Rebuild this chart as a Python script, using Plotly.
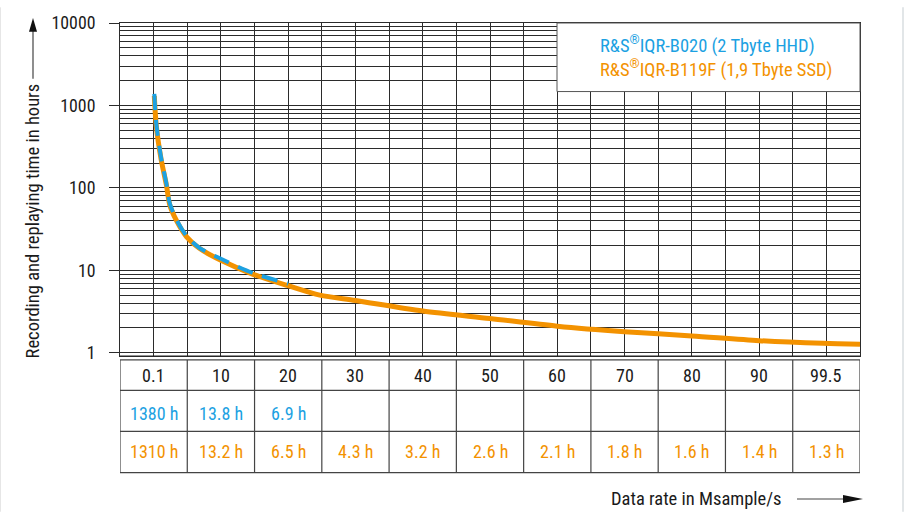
import plotly.graph_objects as go

# Recording time versus data rate (log scale) for the two storage options
rate_ssd = [0.1, 0.4, 1.1, 1.9, 2.4, 3.4, 4.9, 6.8, 10, 14.7, 20, 24.7, 30, 40, 50, 60, 70, 80, 90, 99.5, 105]
hours_ssd = [1310, 560, 225, 108, 62, 40, 25.5, 18.5, 13.2, 9.0, 6.5, 5.0, 4.3, 3.2, 2.6, 2.1, 1.8, 1.6, 1.4, 1.3, 1.27]

rate_hdd = [0.1, 0.4, 1.1, 1.9, 2.4, 3.4, 4.9, 6.8, 10, 14.7, 20]
hours_hdd = [1380, 590, 235, 112, 65, 41, 26, 18.7, 13.8, 9.3, 6.9]

# Table below the chart
col_pos = [0, 10, 20, 30, 40, 50, 60, 70, 80, 90, 100]
col_labels = ["0.1", "10", "20", "30", "40", "50", "60", "70", "80", "90", "99.5"]
hdd_labels = ["1380 h", "13.8 h", "6.9 h", "", "", "", "", "", "", "", ""]
ssd_labels = ["1310 h", "13.2 h", "6.5 h", "4.3 h", "3.2 h", "2.6 h", "2.1 h", "1.8 h", "1.6 h", "1.4 h", "1.3 h"]

y_ticks = [1, 10, 100, 1000, 10000]
legend_hdd = "R&S<sup>®</sup>IQR-B020 (2 Tbyte HHD)"
legend_ssd = "R&S<sup>®</sup>IQR-B119F (1,9 Tbyte SSD)"
x_title = "Data rate in Msample/s"
y_title = "Recording and replaying time in hours"

BLUE = "#1CA1E2"
ORANGE = "#F39200"
GRID = "#2b2b2b"
TXT = "#1a1a1a"
FONT = "Roboto Condensed, Liberation Sans Narrow, DejaVu Sans Condensed, sans-serif"
FS = 18.5
FS_TABLE = 18
FS_TICK = 17.8

W_FIG, H_FIG = 910, 515
L, R, T, B = 120, 860, 16, 356


def px(x):
    return (x - L) / (R - L)


def py(y):
    return (B - y) / (B - T)


fig = go.Figure()
fig.add_trace(go.Scatter(x=rate_ssd, y=hours_ssd, mode="lines",
                         line=dict(color=ORANGE, width=5, shape="spline", smoothing=0.8),
                         hoverinfo="skip", showlegend=False))
fig.add_trace(go.Scatter(x=rate_hdd, y=hours_hdd, mode="lines",
                         line=dict(color=BLUE, width=4, dash="16px,10px", shape="spline", smoothing=0.8),
                         hoverinfo="skip", showlegend=False))

shapes = []
annotations = []

# legend box covering the upper right of the grid
shapes.append(dict(type="rect", xref="paper", yref="paper",
                   x0=px(557), x1=px(860), y0=py(86), y1=py(16),
                   fillcolor="white", line=dict(color="#555", width=1), layer="above"))
annotations.append(dict(xref="paper", yref="paper", x=px(598), y=py(38), text=legend_hdd,
                        showarrow=False, xanchor="left", yanchor="middle",
                        font=dict(family=FONT, size=FS, color=BLUE)))
annotations.append(dict(xref="paper", yref="paper", x=px(598), y=py(62), text=legend_ssd,
                        showarrow=False, xanchor="left", yanchor="middle",
                        font=dict(family=FONT, size=FS, color=ORANGE)))

# table grid
row_y = [360, 391, 433, 475]
for yy in row_y:
    shapes.append(dict(type="line", xref="paper", yref="paper", x0=0, x1=1, y0=py(yy), y1=py(yy),
                       line=dict(color="#444", width=1.2)))
for k in range(len(col_pos) + 1):
    xb = col_pos[0] - 5 + 10 * k
    shapes.append(dict(type="line", xref="x", yref="paper", x0=xb, x1=xb, y0=py(360), y1=py(475),
                       line=dict(color="#444", width=1.2)))
# separation line between the plot and the table
shapes.append(dict(type="line", xref="paper", yref="paper", x0=0, x1=1, y0=py(356), y1=py(356),
                   line=dict(color="#222", width=1)))

row_centers = [376, 415, 454]
for xc, a, b, c in zip(col_pos, col_labels, hdd_labels, ssd_labels):
    for txt, yc, col in ((a, row_centers[0], TXT), (b, row_centers[1], BLUE), (c, row_centers[2], ORANGE)):
        if txt:
            annotations.append(dict(xref="x", yref="paper", x=xc, y=py(yc), text=txt, showarrow=False,
                                    xanchor="center", yanchor="middle",
                                    font=dict(family=FONT, size=FS_TABLE, color=col)))

# axis titles with arrows
annotations.append(dict(xref="paper", yref="paper", x=px(784), y=py(502), text=x_title, showarrow=False,
                        xanchor="right", yanchor="middle", font=dict(family=FONT, size=FS, color=TXT)))
shapes.append(dict(type="line", xref="paper", yref="paper", x0=px(797), x1=px(846), y0=py(502), y1=py(502),
                   line=dict(color="#444", width=1.2)))
shapes.append(dict(type="path", xref="paper", yref="paper",
                   path=f"M {px(843)} {py(498)} L {px(863)} {py(502)} L {px(843)} {py(506)} Z",
                   fillcolor="#111", line=dict(color="#111", width=0)))

annotations.append(dict(xref="paper", yref="paper", x=px(33), y=py(361), text=y_title, showarrow=False,
                        textangle=-90, xanchor="center", yanchor="bottom",
                        font=dict(family=FONT, size=FS, color=TXT)))
shapes.append(dict(type="line", xref="paper", yref="paper", x0=px(33), x1=px(33), y0=py(73), y1=py(22),
                   line=dict(color="#444", width=1.2)))
shapes.append(dict(type="path", xref="paper", yref="paper",
                   path=f"M {px(29)} {py(25)} L {px(33)} {py(11)} L {px(37)} {py(25)} Z",
                   fillcolor="#111", line=dict(color="#111", width=0)))

# light page frame lines at the edges
shapes.append(dict(type="line", xref="paper", yref="paper", x0=px(0.5), x1=px(0.5), y0=py(0), y1=py(515),
                   line=dict(color="#e6e6e6", width=1)))
shapes.append(dict(type="line", xref="paper", yref="paper", x0=px(903), x1=px(903), y0=py(0), y1=py(515),
                   line=dict(color="#e2e6e8", width=2)))

fig.update_layout(
    width=W_FIG, height=H_FIG,
    margin=dict(l=L, r=W_FIG - R, t=T, b=H_FIG - B),
    paper_bgcolor="white", plot_bgcolor="white",
    font=dict(family=FONT, size=FS, color=TXT),
    shapes=shapes, annotations=annotations,
    xaxis=dict(range=[-5, 105], tick0=0, dtick=5, showgrid=True, gridcolor=GRID, gridwidth=1,
               zeroline=False, showticklabels=False, ticks="",
               showline=True, linecolor=GRID, linewidth=1, mirror=True),
    yaxis=dict(type="log", range=[-0.04, 4], tickvals=y_ticks, ticktext=[str(v) for v in y_ticks],
               ticks="outside", ticklen=10, tickcolor=GRID, tickwidth=1, ticklabelstandoff=10,
               showgrid=True, gridcolor=GRID, gridwidth=1, zeroline=False,
               minor=dict(dtick="D1", showgrid=True, gridcolor=GRID, gridwidth=1, ticks=""),
               showline=True, linecolor=GRID, linewidth=1, mirror=True,
               tickfont=dict(family=FONT, size=FS_TICK, color=TXT)),
)

fig.write_html("out.html")
